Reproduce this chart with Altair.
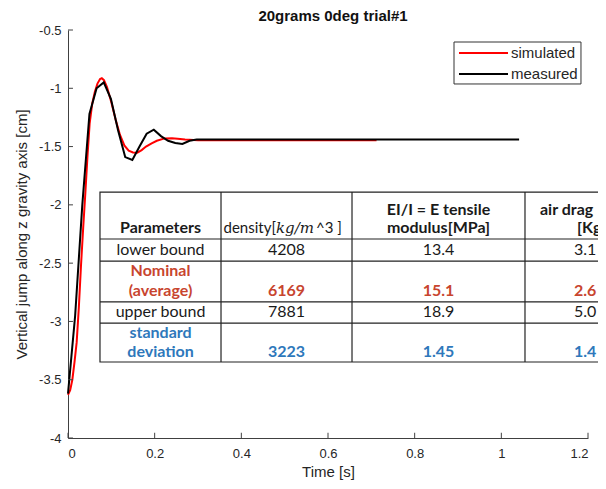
import altair as alt
import pandas as pd

# ---------------- curve data ----------------
sim_t = [0.000, 0.005, 0.010, 0.015, 0.020, 0.025, 0.030, 0.035, 0.040, 0.045,
         0.050, 0.056, 0.062, 0.068, 0.074, 0.078, 0.083, 0.090, 0.100, 0.110,
         0.120, 0.130, 0.140, 0.150, 0.160, 0.170, 0.180, 0.193, 0.205, 0.223,
         0.240, 0.253, 0.270, 0.300, 0.400, 0.500, 0.600, 0.712]
sim_y = [-3.63, -3.59, -3.50, -3.35, -3.18, -2.88, -2.52, -2.20, -1.90, -1.58,
         -1.30, -1.13, -1.03, -0.96, -0.92, -0.914, -0.93, -0.99, -1.12, -1.27,
         -1.40, -1.49, -1.535, -1.55, -1.552, -1.53, -1.50, -1.472, -1.45, -1.43,
         -1.428, -1.432, -1.44, -1.445, -1.445, -1.445, -1.445, -1.445]

meas_t = [0.000, 0.0165, 0.033, 0.0495, 0.066, 0.0825, 0.099, 0.1155, 0.132,
          0.1485, 0.165, 0.1815, 0.198, 0.2145, 0.231, 0.2475, 0.264, 0.2805,
          0.297, 0.400, 0.500, 0.600, 0.700, 0.800, 0.900, 1.041]
meas_y = [-3.62, -2.95, -2.00, -1.22, -1.00, -0.95, -1.09, -1.36, -1.59,
          -1.615, -1.50, -1.39, -1.355, -1.41, -1.45, -1.47, -1.478, -1.45,
          -1.44, -1.44, -1.44, -1.44, -1.44, -1.44, -1.44, -1.44]

series_names = ["simulated", "measured"]
series_colors = ["#ff0000", "#000000"]

x_ticks = [0, 0.2, 0.4, 0.6, 0.8, 1, 1.2]
y_ticks = [-4, -3.5, -3, -2.5, -2, -1.5, -1, -0.5]

# ---------------- table content ----------------
row_labels = ["lower bound", "Nominal", "(average)", "upper bound", "standard", "deviation"]
density_vals = ["4208", "6169", "7881", "3223"]
modulus_vals = ["13.4", "15.1", "18.9", "1.45"]
drag_vals = ["3.1", "2.6", "5.0", "1.4"]
header_texts = ["Parameters", "density[", "kg/m", "^3 ]", "EI/I = E tensile",
                "modulus[MPa]", "air drag", "[Kg/s]"]

# table layout in data units (time, cm)
tab_x_edges = [0.0738, 0.3531, 0.6554, 1.0546, 1.40]
tab_y_edges = [-1.890, -2.293, -2.482, -2.833, -3.014, -3.348]
col_c = [0.2135, 0.5042, 0.8550, 1.1677]
y_h1, y_h2 = -2.044, -2.199
row_y = [-2.387, -2.739, -2.919, -3.262]
label_y = [-2.387, -2.567, -2.739, -2.919, -3.099, -3.262]

# legend layout in data units
leg_box = [0.8908, 1.1838, -0.603, -0.963]
leg_line_x = [0.9023, 1.0154]
leg_row_y = [-0.697, -0.877]
leg_text_x = 1.0223

RED_T = "#c8452f"
BLUE_T = "#2e78bb"
INK = "#1a1a1a"

# ---------------- frames ----------------
sim_df = pd.DataFrame({"t": sim_t, "y": sim_y, "series": series_names[0]})
meas_df = pd.DataFrame({"t": meas_t, "y": meas_y, "series": series_names[1]})

xs = alt.Scale(domain=[0, 1.2], nice=False, zero=False)
ys = alt.Scale(domain=[-4, -0.5], nice=False, zero=False)
cs = alt.Scale(domain=series_names, range=series_colors)

AX_FONT = "Liberation Sans"
TB_FONT = "Lato"

x_axis = alt.Axis(values=x_ticks, labelExpr="'' + datum.value", tickSize=0,
                  grid=False, domainColor="#404040", labelColor="#262626",
                  labelFont=AX_FONT, labelFontSize=13, labelPadding=9,
                  title="Time [s]", titleFont=AX_FONT, titleFontSize=15,
                  titleFontWeight="normal", titleColor="#262626", titlePadding=4)
y_axis = alt.Axis(values=y_ticks, labelExpr="'' + datum.value", tickSize=0,
                  grid=False, domainColor="#404040", labelColor="#262626",
                  labelFont=AX_FONT, labelFontSize=13, labelPadding=7,
                  title="Vertical jump along z gravity axis [cm]", titleFont=AX_FONT,
                  titleFontSize=15, titleFontWeight="normal", titleColor="#262626",
                  titlePadding=9)

sim_line = alt.Chart(sim_df).mark_line(strokeWidth=2).encode(
    x=alt.X("t:Q", scale=xs, axis=x_axis),
    y=alt.Y("y:Q", scale=ys, axis=y_axis),
    color=alt.Color("series:N", scale=cs, legend=None),
)
meas_line = alt.Chart(meas_df).mark_line(strokeWidth=2).encode(
    x="t:Q", y="y:Q", color=alt.Color("series:N", scale=cs, legend=None),
)

# inward ticks
xt_df = pd.DataFrame({"v": x_ticks})
yt_df = pd.DataFrame({"v": y_ticks})
xticks = alt.Chart(xt_df).mark_rule(color="#404040", strokeWidth=1).encode(
    x="v:Q", y=alt.datum(-4), y2=alt.datum(-3.955))
yticks = alt.Chart(yt_df).mark_rule(color="#404040", strokeWidth=1).encode(
    y="v:Q", x=alt.datum(0), x2=alt.datum(0.0115))

# legend (drawn as marks, MATLAB style)
lbox_df = pd.DataFrame({"x": [leg_box[0]], "x2": [leg_box[1]],
                        "y": [leg_box[2]], "y2": [leg_box[3]]})
lbox = alt.Chart(lbox_df).mark_rect(fill="white", stroke="#333333", strokeWidth=1).encode(
    x="x:Q", x2="x2:Q", y="y:Q", y2="y2:Q")
lline_df = pd.DataFrame({"series": series_names, "y": leg_row_y,
                         "x": [leg_line_x[0]] * 2, "x2": [leg_line_x[1]] * 2})
llines = alt.Chart(lline_df).mark_rule(strokeWidth=2).encode(
    x="x:Q", x2="x2:Q", y="y:Q",
    color=alt.Color("series:N", scale=cs, legend=None))
ltext_df = pd.DataFrame({"series": series_names, "y": leg_row_y, "x": [leg_text_x] * 2})
ltexts = alt.Chart(ltext_df).mark_text(font=AX_FONT, fontSize=15, align="left",
                                       baseline="middle", color="#262626").encode(
    x="x:Q", y="y:Q", text="series:N")

# table box and grid
box_df = pd.DataFrame({"x": [tab_x_edges[0]], "x2": [tab_x_edges[-1]],
                       "y": [tab_y_edges[0]], "y2": [tab_y_edges[-1]]})
box = alt.Chart(box_df).mark_rect(fill="white", stroke="#222222", strokeWidth=1.2).encode(
    x="x:Q", x2="x2:Q", y="y:Q", y2="y2:Q")
vl_df = pd.DataFrame({"x": tab_x_edges[1:-1]})
vlines = alt.Chart(vl_df).mark_rule(color="#222222", strokeWidth=1.2).encode(
    x="x:Q", y=alt.datum(tab_y_edges[0]), y2=alt.datum(tab_y_edges[-1]))
hl_df = pd.DataFrame({"y": tab_y_edges[1:-1]})
hlines = alt.Chart(hl_df).mark_rule(color="#222222", strokeWidth=1.2).encode(
    y="y:Q", x=alt.datum(tab_x_edges[0]), x2=alt.datum(tab_x_edges[-1]))

# table texts
rows = []
def add(x, y, text, color=INK, weight="normal", align="center", style="normal",
        font=TB_FONT, size=16):
    rows.append({"x": x, "y": y, "text": text, "color": color, "weight": weight,
                 "align": align, "style": style, "font": font, "size": size})

add(col_c[0], y_h2, header_texts[0], weight="bold")
add(0.4800, y_h2, header_texts[1], align="right", size=15)
add(0.4800, y_h2, header_texts[2], align="left", style="italic", font="DejaVu Serif", size=15)
add(0.5723, y_h2, header_texts[3], align="left", size=15)
add(col_c[2], y_h1, header_texts[4], weight="bold")
add(col_c[2], y_h2, header_texts[5], weight="bold")
add(1.0892, y_h1, header_texts[6], weight="bold", align="left")
add(1.1746, y_h2, header_texts[7], weight="bold", align="left")

label_styles = [(INK, "normal"), (RED_T, "bold"), (RED_T, "bold"),
                (INK, "normal"), (BLUE_T, "bold"), (BLUE_T, "bold")]
for lab, ly, (c, w) in zip(row_labels, label_y, label_styles):
    add(col_c[0], ly, lab, color=c, weight=w)

row_styles = [(INK, "normal"), (RED_T, "bold"), (INK, "normal"), (BLUE_T, "bold")]
for i, (ry, (c, w)) in enumerate(zip(row_y, row_styles)):
    add(col_c[1], ry, density_vals[i], color=c, weight=w)
    add(col_c[2], ry, modulus_vals[i], color=c, weight=w)
    add(col_c[3], ry, drag_vals[i], color=c, weight=w, align="left")

txt_df = pd.DataFrame(rows)

texts = []
for key, d in txt_df.groupby(["align", "weight", "style", "font", "size"]):
    a, w, s, f, z = key
    texts.append(alt.Chart(d).mark_text(font=f, fontSize=float(z), align=a, baseline="middle",
                                        fontWeight=w, fontStyle=s).encode(
        x="x:Q", y="y:Q", text="text:N", color=alt.Color("color:N", scale=None)))

chart = alt.layer(sim_line, meas_line, xticks, yticks, lbox, llines, ltexts,
                  box, vlines, hlines, *texts).properties(
    width=520, height=408,
    title=alt.TitleParams("20grams 0deg trial#1", font=AX_FONT, fontSize=15,
                          fontWeight="bold", color="#111111", anchor="middle",
                          offset=0, dx=5),
    autosize=alt.AutoSizeParams(type="none"),
    padding={"left": 60, "top": 22, "right": 10, "bottom": 43},
).configure_view(stroke=None)

chart.save("out.html", embed_options={"renderer": "svg", "actions": False})
